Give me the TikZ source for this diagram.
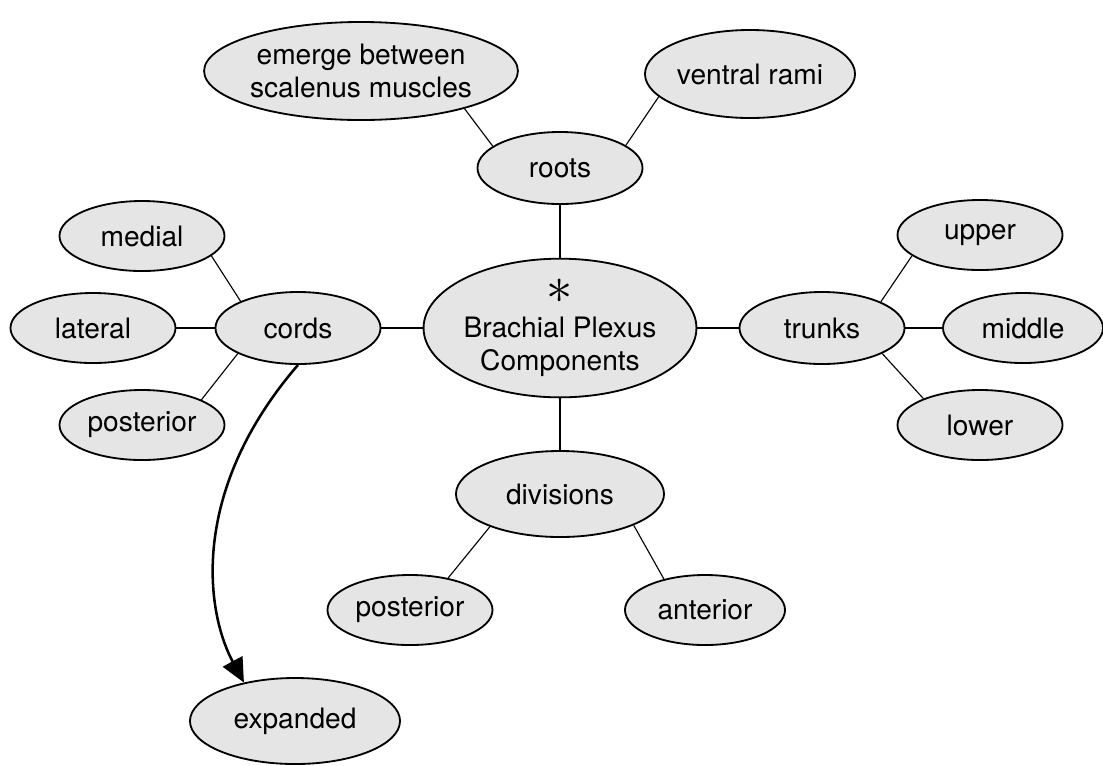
\documentclass[tikz,border=0pt]{standalone}
\usepackage{fontspec}
\setmainfont{TeX Gyre Heros}
\usepackage{amsmath,amssymb}
\usepackage{xcolor}
\usepackage{tikz}
\usetikzlibrary{shapes,arrows.meta,positioning}

\begin{document}
\begin{tikzpicture}[x=0.025cm, y=-0.025cm,
    bubble/.style={ellipse, draw, line width=1.3pt, fill=black!10, minimum width=4.125cm, minimum height=1.75cm, inner sep=0pt, text centered, font=\fontsize{20}{24}\selectfont},
    bigbubble/.style={bubble, align=center},
    link/.style={line width=0.8pt},
    expand/.style={line width=1.8pt, -{Triangle[length=0.6cm, width=0.55cm]}}]

  \useasboundingbox (0,0) rectangle (1103,765);

  % centre
  \node[bigbubble, minimum width=6.35cm, minimum height=3.1cm] (hub) at (560,328) {\scalebox{1.8}{$\ast$}\\Brachial Plexus\\Components};

  \node[bubble, minimum height=1.8cm] (roots) at (560,168) {roots};
  \node[bigbubble, minimum width=7.15cm, minimum height=2.45cm] (emerge) at (361,71) {emerge between\\scalenus muscles};
  \node[bubble, minimum width=5.25cm, minimum height=2.2cm] (ventral) at (750,74) {ventral rami};

  \node[bubble, minimum height=1.8cm] (cords) at (298,328) {cords};
  \node[bubble] (medial) at (142,236) {medial};
  \node[bubble] (lateral) at (93,328) {lateral};
  \node[bubble] (postcord) at (142,425) {posterior};

  \node[bubble, minimum height=1.8cm] (trunks) at (822,328) {trunks};
  \node[bubble] (upper) at (980,235) {upper};
  \node[bubble, minimum width=4cm] (middle) at (1023,328) {middle};
  \node[bubble] (lower) at (980,425) {lower};

  \node[bubble, minimum width=5.2cm, minimum height=2.15cm] (divisions) at (560,494) {divisions};
  \node[bubble] (postdiv) at (410,610) {posterior};
  \node[bubble, minimum width=4cm] (anterior) at (705,610) {anterior};

  \node[bubble, minimum width=5.25cm, minimum height=2.15cm] (expanded) at (295,721) {expanded};

  \draw[link] (hub) -- (roots);
  \draw[link] (hub) -- (cords);
  \draw[link] (hub) -- (trunks);
  \draw[link] (hub) -- (divisions);

  \draw[link] (roots.162) -- (emerge.-20);
  \draw[link] (roots.19) -- (ventral.194);

  \draw[link] (cords.155) -- (medial.-16);
  \draw[link] (cords) -- (lateral);
  \draw[link] (cords.203) -- (postcord.23);

  \draw[link] (trunks.24) -- (upper.197);
  \draw[link] (trunks) -- (middle);
  \draw[link] (trunks.-23) -- (lower.155);

  \draw[link] (divisions.205) -- (postdiv.40);
  \draw[link] (divisions.-23) -- (anterior.143);

  \draw[expand] (cords.south) .. controls (190,490) and (205,610) .. (expanded.143);
\end{tikzpicture}
\end{document}
